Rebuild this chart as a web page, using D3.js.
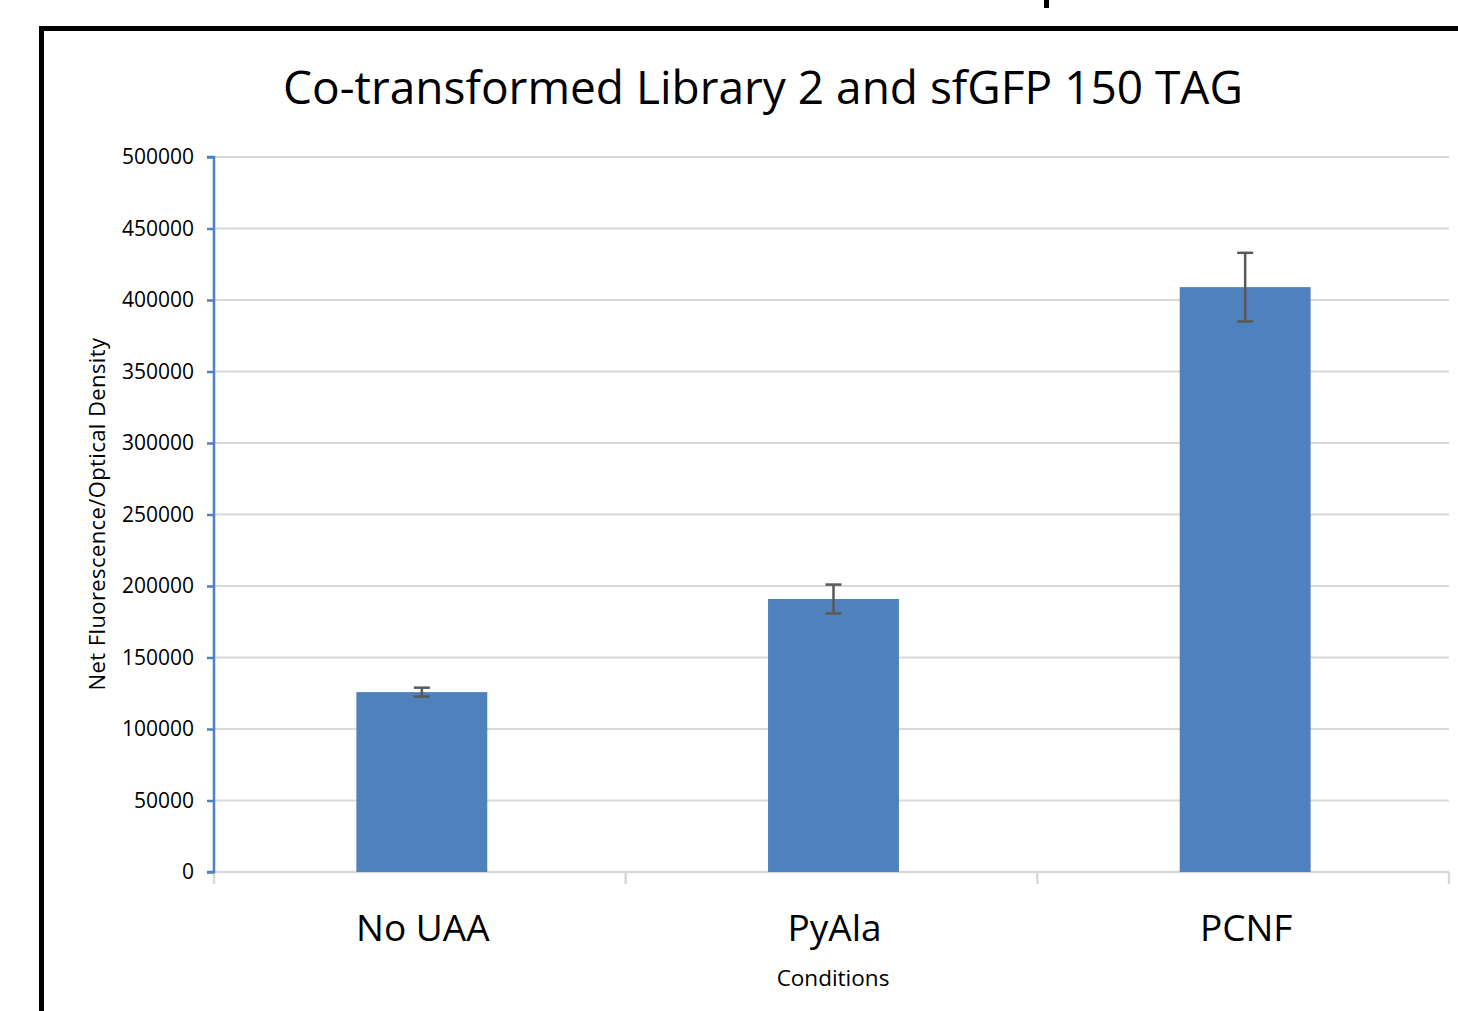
<!DOCTYPE html>
<html><head><meta charset="utf-8">
<script src="https://cdn.jsdelivr.net/npm/d3@7"></script>
<style>html,body{margin:0;padding:0;background:#fff;}svg{display:block;font-family:"Open Sans",sans-serif;}</style>
</head><body>
<svg id="c" width="1458" height="1011"></svg>
<script>
const categories = ["No UAA", "PyAla", "PCNF"];
const values = [125800, 190900, 409000];
const errors = [3100, 10100, 24000];
const yTicks = [0, 50000, 100000, 150000, 200000, 250000, 300000, 350000, 400000, 450000, 500000];
const title = "Co-transformed Library 2 and sfGFP 150 TAG";
const yTitle = "Net Fluorescence/Optical Density";
const xTitle = "Conditions";

const svg = d3.select("#c");
const L = 214, R = 1449, T = 157, B = 872;

// frame
svg.append("rect").attr("x", 39).attr("y", 26).attr("width", 1458 - 39).attr("height", 5).attr("fill", "#000");
svg.append("rect").attr("x", 39).attr("y", 26).attr("width", 5).attr("height", 1011 - 26).attr("fill", "#000");
svg.append("rect").attr("x", 1044).attr("y", 0).attr("width", 5).attr("height", 8).attr("fill", "#000");

const x = d3.scaleBand().domain(categories).range([L + 2, R + 2]).paddingInner(0.682).paddingOuter(0.341);
const y = d3.scaleLinear().domain([0, 500000]).range([B, T]);

// gridlines
svg.append("g").selectAll("line").data(yTicks.filter(d => d > 0)).join("line")
  .attr("x1", L).attr("x2", R).attr("y1", d => y(d)).attr("y2", d => y(d))
  .attr("stroke", "#d9d9d9").attr("stroke-width", 2);

// x axis
const xb = d3.scaleBand().domain(categories).range([L, R]);
svg.append("line").attr("x1", L).attr("x2", R).attr("y1", B).attr("y2", B).attr("stroke", "#d9d9d9").attr("stroke-width", 2.5);
const xEdges = categories.map(c => xb(c)).concat([R]);
svg.append("g").selectAll("line").data(xEdges).join("line")
  .attr("x1", d => d).attr("x2", d => d).attr("y1", B).attr("y2", B + 12)
  .attr("stroke", "#d9d9d9").attr("stroke-width", 2.5);

// bars
svg.append("g").selectAll("rect").data(values).join("rect")
  .attr("x", (d, i) => x(categories[i])).attr("width", x.bandwidth())
  .attr("y", d => y(d)).attr("height", d => B - y(d)).attr("fill", "#4f81bd");

// error bars
const eg = svg.append("g").attr("stroke", "#595959").attr("stroke-width", 2.5);
values.forEach((v, i) => {
  const cx = x(categories[i]) + x.bandwidth() / 2;
  eg.append("line").attr("x1", cx).attr("x2", cx).attr("y1", y(v + errors[i])).attr("y2", y(v - errors[i]));
  [v + errors[i], v - errors[i]].forEach(e => {
    eg.append("line").attr("x1", cx - 8).attr("x2", cx + 8).attr("y1", y(e)).attr("y2", y(e));
  });
});

// y axis
const yAxis = d3.axisLeft(y).tickValues(yTicks).tickFormat(d3.format("d")).tickSize(7).tickPadding(13);
const ya = svg.append("g").attr("transform", `translate(${L},0)`).call(yAxis);
ya.select(".domain").attr("stroke", "#4f81bd").attr("stroke-width", 2.5).attr("d", `M-7,${T}H0V${B}H-7`);
ya.selectAll(".tick line").attr("stroke", "#4f81bd").attr("stroke-width", 2.5);
ya.selectAll(".tick text").attr("fill", "#000").style("font-size", "21px").style("font-family", "'Open Sans',sans-serif");

// category labels
svg.append("g").selectAll("text").data(categories).join("text")
  .attr("x", d => xb(d) + xb.bandwidth() / 2 + 3).attr("y", 941)
  .attr("text-anchor", "middle").style("font-size", "37px").attr("fill", "#000").text(d => d);

// titles
svg.append("text").attr("x", 763).attr("y", 104).attr("text-anchor", "middle")
  .style("font-size", "46px").attr("fill", "#000").text(title);
svg.append("text").attr("x", 833).attr("y", 986).attr("text-anchor", "middle")
  .style("font-size", "22.5px").attr("fill", "#000").text(xTitle);
svg.append("text").attr("transform", "translate(105,514) rotate(-90)").attr("text-anchor", "middle")
  .style("font-size", "22px").style("letter-spacing", "0.4px").attr("fill", "#000").text(yTitle);
</script>
</body></html>
